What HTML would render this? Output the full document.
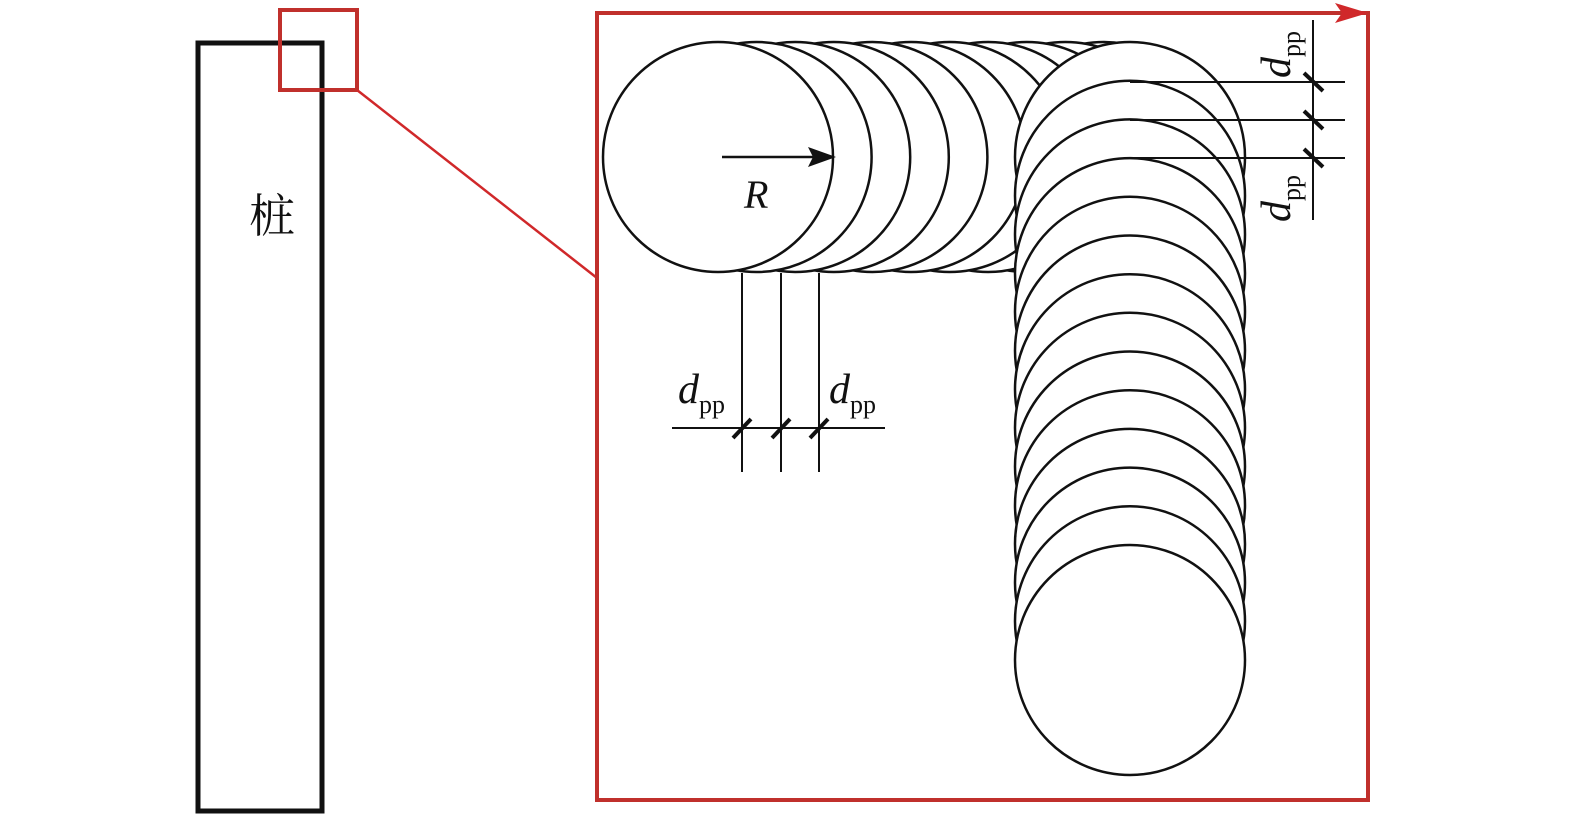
<!DOCTYPE html>
<html><head><meta charset="utf-8"><style>
html,body{margin:0;padding:0;background:#fff;width:1575px;height:819px;overflow:hidden;}
svg{display:block;}
</style></head><body>
<svg width="1575" height="819" viewBox="0 0 1575 819" xmlns="http://www.w3.org/2000/svg">
<rect x="198" y="43" width="124" height="768" fill="none" stroke="#111" stroke-width="5"/>
<rect x="280" y="10" width="77" height="80" fill="none" stroke="#c0302c" stroke-width="4"/>
<line x1="357" y1="90" x2="597" y2="278" stroke="#d0282a" stroke-width="2.5"/>
<rect x="597" y="13" width="771" height="787" fill="none" stroke="#c0302c" stroke-width="4"/>
<polygon points="1368,13 1335,3 1342,13 1335,23" fill="#d0282a"/>
<text x="272" y="232" font-family="'Liberation Serif','Noto Serif CJK SC',serif" font-size="46" text-anchor="middle" fill="#111">桩</text>
<g fill="#fff" stroke="#111" stroke-width="2.5">
<circle cx="1104" cy="157" r="115"/>
<circle cx="1065.4" cy="157" r="115"/>
<circle cx="1026.8" cy="157" r="115"/>
<circle cx="988.2" cy="157" r="115"/>
<circle cx="949.6" cy="157" r="115"/>
<circle cx="911" cy="157" r="115"/>
<circle cx="872.4" cy="157" r="115"/>
<circle cx="833.8" cy="157" r="115"/>
<circle cx="795.2" cy="157" r="115"/>
<circle cx="756.6" cy="157" r="115"/>
<circle cx="718" cy="157" r="115"/>
</g>
<g fill="#fff" stroke="#111" stroke-width="2.5">
<circle cx="1130" cy="157" r="115"/>
<circle cx="1130" cy="195.7" r="115"/>
<circle cx="1130" cy="234.4" r="115"/>
<circle cx="1130" cy="273.1" r="115"/>
<circle cx="1130" cy="311.8" r="115"/>
<circle cx="1130" cy="350.5" r="115"/>
<circle cx="1130" cy="389.2" r="115"/>
<circle cx="1130" cy="427.8" r="115"/>
<circle cx="1130" cy="466.5" r="115"/>
<circle cx="1130" cy="505.2" r="115"/>
<circle cx="1130" cy="543.9" r="115"/>
<circle cx="1130" cy="582.6" r="115"/>
<circle cx="1130" cy="621.3" r="115"/>
<circle cx="1130" cy="660" r="115"/>
</g>
<g stroke="#111" stroke-width="2">
<line x1="1130" y1="82" x2="1345" y2="82"/>
<line x1="1130" y1="120" x2="1345" y2="120"/>
<line x1="1130" y1="158" x2="1345" y2="158"/>
<line x1="1313" y1="20" x2="1313" y2="220"/>
<line x1="742" y1="273" x2="742" y2="472"/>
<line x1="781" y1="273" x2="781" y2="472"/>
<line x1="819" y1="273" x2="819" y2="472"/>
<line x1="672" y1="428" x2="885" y2="428"/>
</g>
<g stroke="#111" stroke-width="4">
<line x1="1304" y1="73" x2="1323" y2="91"/>
<line x1="1304" y1="111" x2="1323" y2="129"/>
<line x1="1304" y1="149" x2="1323" y2="167"/>
<line x1="733" y1="438" x2="751" y2="419"/>
<line x1="772" y1="438" x2="790" y2="419"/>
<line x1="810" y1="438" x2="828" y2="419"/>
</g>
<line x1="722" y1="157" x2="815" y2="157" stroke="#111" stroke-width="2.5"/>
<polygon points="836,157 808,147 813,157 808,167" fill="#111"/>
<g font-family="'Liberation Serif',serif" fill="#111">
<text x="744" y="208" font-size="40" font-style="italic">R</text>
<text x="678" y="403" font-size="42" font-style="italic">d<tspan font-size="26" font-style="normal" dy="10">pp</tspan></text>
<text x="829" y="403" font-size="42" font-style="italic">d<tspan font-size="26" font-style="normal" dy="10">pp</tspan></text>
<text transform="translate(1290,78) rotate(-90)" font-size="42" font-style="italic">d<tspan font-size="26" font-style="normal" dy="10">pp</tspan></text>
<text transform="translate(1290,222) rotate(-90)" font-size="42" font-style="italic">d<tspan font-size="26" font-style="normal" dy="10">pp</tspan></text>
</g>
</svg>
</body></html>
